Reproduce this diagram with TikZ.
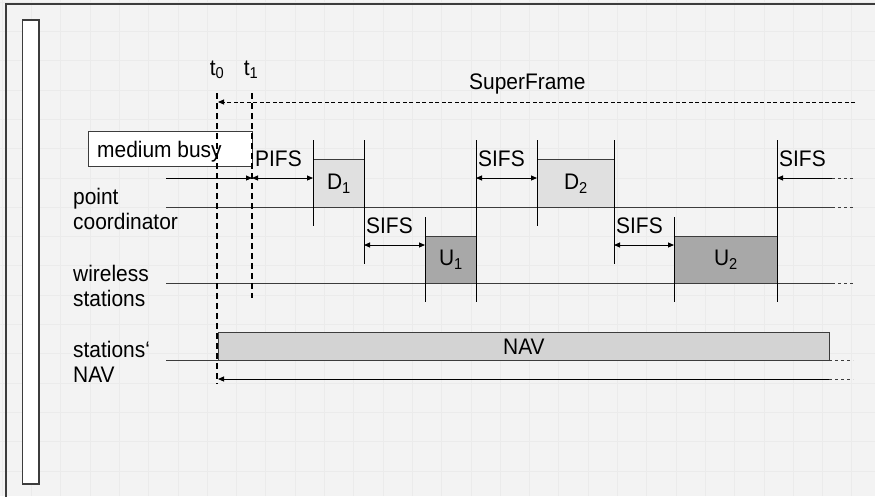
\documentclass[tikz,border=0pt]{standalone}
\usepackage{fontspec}
\setmainfont{Liberation Sans}[FakeStretch=0.93]
\usepackage{xcolor}
\usetikzlibrary{arrows.meta}
\usetikzlibrary{positioning}

\definecolor{paper}{RGB}{243,243,243}
\definecolor{gridc}{RGB}{235,235,235}
\definecolor{lineg}{RGB}{60,60,60}
\definecolor{downfill}{RGB}{224,224,224}
\definecolor{upfill}{RGB}{168,168,168}
\definecolor{navfill}{RGB}{211,211,211}

\tikzset{
  tip/.style={-{Triangle[length=6pt,width=5pt]}},
  twotip/.style={{Triangle[length=6pt,width=5pt]}-{Triangle[length=6pt,width=5pt]}},
  timeline/.style={draw=lineg, line width=0.9pt},
  tick/.style={draw=black, line width=0.8pt},
  frame/.style={inner sep=0pt, draw=lineg, line width=0.9pt},
  lbl/.style={inner sep=0pt, anchor=base west},
  tmark/.style={draw=black, line width=1.6pt, dash pattern=on 6pt off 4pt},
  tail/.style={draw=lineg, line width=0.9pt, dash pattern=on 3pt off 3pt},
}

\begin{document}
\begin{tikzpicture}[x=1pt, y=-1pt, font=\fontsize{22.5}{25}\selectfont]
    % paper and grid
    \fill[paper] (0,0) rectangle (875,496);
    \useasboundingbox (0,0) rectangle (875,496);
    \foreach \gx in {2,31.3,...,875} \draw[gridc, line width=0.6pt] (\gx,0) -- (\gx,496);
    \foreach \gy in {2,31.3,...,496} \draw[gridc, line width=0.6pt] (0,\gy) -- (875,\gy);
    \draw[lineg, line width=1.6pt] (6,520) -- (6,4) -- (900,4);
    \draw[lineg, line width=1.2pt, fill=white] (22.5,20) rectangle (39,484);

    % row labels (base is the last line)
    \node (pclabel) [lbl, align=left] at (73,229) {point\\coordinator};
    \node (wslabel) [lbl, align=left] at (73,306) {wireless\\stations};
    \node (navlabel) [lbl, align=left] at (73,382) {stations‘\\NAV};

    % time marks
    \coordinate (t0top) at (217,93);
    \coordinate (t0bot) at (217,384);
    \coordinate (t1top) at (252,93);
    \coordinate (t1bot) at (252,298);
    \node (t0) [anchor=base, inner sep=0pt] at (217,75) {t\textsubscript{0}};
    \node (t1) [anchor=base, inner sep=0pt] at (251,75) {t\textsubscript{1}};

    % time lines
    \coordinate (pcstart) at (166,207);
    \coordinate (pcend) at (832,207);
    \coordinate (pcfar) at (853,207);
    \coordinate (wsstart) at (166,283);
    \coordinate (wsend) at (832,283);
    \coordinate (wsfar) at (853,283);
    \coordinate (navstart) at (166,360);
    \coordinate (navend) at (829,360);
    \coordinate (navfar) at (853,360);
    \draw[timeline] (pcstart) -- (pcend);
    \draw[tail] (pcend) -- (pcfar);
    \draw[timeline] (wsstart) -- (wsend);
    \draw[tail] (wsend) -- (wsfar);
    \draw[timeline] (navstart) -- (navend);
    \draw[tail] (navend) -- (navfar);

    % frames
    \node (busy) [frame, fill=white, minimum width=164pt, minimum height=35pt, anchor=north west] at (88,131) {};
    \node [lbl] at (97,157) {medium busy};
    \node (D1) [frame, fill=downfill, minimum width=51pt, minimum height=48pt, anchor=north west] at (313,159) {D\textsubscript{1}};
    \node (U1) [frame, fill=upfill, minimum width=51pt, minimum height=47pt, anchor=north west] at (425,236) {U\textsubscript{1}};
    \node (D2) [frame, fill=downfill, minimum width=77pt, minimum height=48pt, anchor=north west] at (537,159) {D\textsubscript{2}};
    \node (U2) [frame, fill=upfill, minimum width=103pt, minimum height=47pt, anchor=north west] at (674,236) {U\textsubscript{2}};
    \node (NAV) [frame, fill=navfill, minimum width=611pt, minimum height=28pt, anchor=north west] at (218,332) {NAV};

    % ticks
    \foreach \tx/\ta/\tb in {313/140/226, 364/140/264, 425/217/302, 476/140/302,
                             537/140/226, 614/140/264, 674/217/302, 777/140/302}
        \draw[tick] (\tx,\ta) -- (\tx,\tb);

    % t0 and t1
    \draw[tmark] (t0top) -- (t0bot);
    \draw[tmark] (t1top) -- (t1bot);

    % superframe
    \coordinate (sfend) at (855,102);
    \coordinate (sfstart) at (218,102);
    \draw[tip, line width=0.9pt, dash pattern=on 4pt off 2.5pt] (sfend) -- (sfstart);
    \node (sf) [lbl] at (469,89) {SuperFrame};

    % spaces
    \coordinate (busyin) at (166,178);
    \coordinate (pifsa) at (252,178);
    \coordinate (pifsb) at (313,178);
    \coordinate (sifsa) at (364,245);
    \coordinate (sifsb) at (425,245);
    \coordinate (sifsc) at (476,178);
    \coordinate (sifsd) at (537,178);
    \coordinate (sifse) at (614,245);
    \coordinate (sifsf) at (674,245);
    \coordinate (sifsg) at (832,178);
    \coordinate (sifsh) at (777,178);
    \coordinate (sifsfar) at (853,178);
    \draw[tip, line width=0.9pt] (busyin) -- (pifsa);
    \draw[twotip, line width=0.9pt] (pifsa) -- (pifsb);
    \draw[twotip, line width=0.9pt] (sifsa) -- (sifsb);
    \draw[twotip, line width=0.9pt] (sifsc) -- (sifsd);
    \draw[twotip, line width=0.9pt] (sifse) -- (sifsf);
    \draw[tip, line width=0.9pt] (sifsg) -- (sifsh);
    \draw[tail] (sifsg) -- (sifsfar);
    \node [lbl] at (255,166) {PIFS};
    \node [lbl] at (366,233) {SIFS};
    \node [lbl] at (478,166) {SIFS};
    \node [lbl] at (616,233) {SIFS};
    \node [lbl] at (779,166) {SIFS};

    % NAV end
    \coordinate (navtail) at (829,379);
    \coordinate (navtailfar) at (853,379);
    \coordinate (navhead) at (218,379);
    \draw[tip, line width=0.9pt] (navtail) -- (navhead);
    \draw[tail] (navtail) -- (navtailfar);
\end{tikzpicture}
\end{document}
